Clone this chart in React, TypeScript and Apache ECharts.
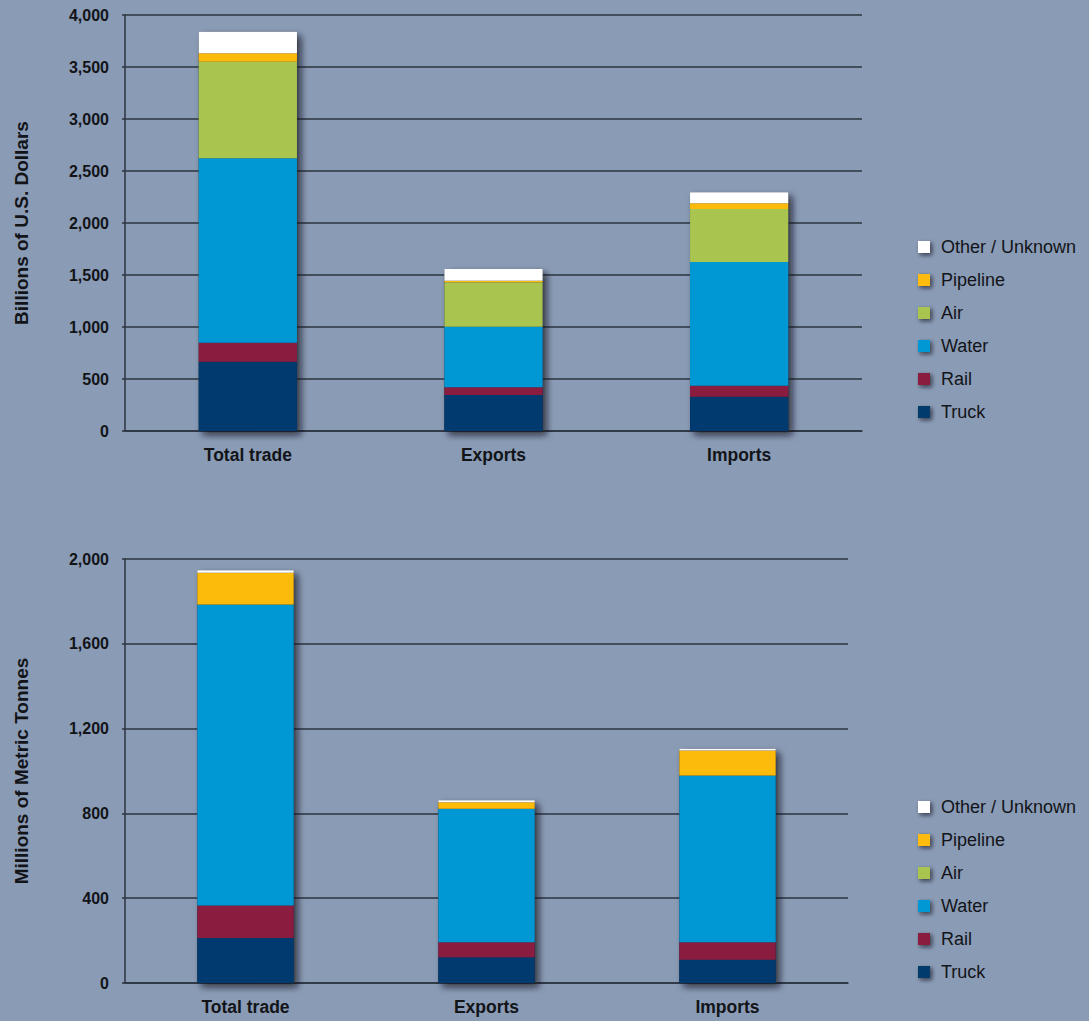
import React, { useEffect, useRef } from "react";
import * as echarts from "echarts";

const categories = ["Total trade", "Exports", "Imports"];
const modes = ["Truck", "Rail", "Water", "Air", "Pipeline", "Other / Unknown"];
const legendOrder = ["Other / Unknown", "Pipeline", "Air", "Water", "Rail", "Truck"];
const modeColors = ["#003a6e", "#8a1c40", "#0098d4", "#a9c54f", "#fcbb0a", "#ffffff"];

// Billions of U.S. Dollars
const valueTruck = [666, 346, 330];
const valueRail = [183, 74, 106];
const valueWater = [1773, 583, 1189];
const valueAir = [929, 427, 510];
const valuePipeline = [81, 15, 54];
const valueOther = [207, 113, 106];

// Millions of Metric Tonnes
const tonsTruck = [212, 121, 110];
const tonsRail = [154, 71, 82];
const tonsWater = [1418, 629, 786];
const tonsAir = [1, 0.5, 0.5];
const tonsPipeline = [150, 31, 118];
const tonsOther = [12, 9, 9];

const valueTicks = { min: 0, max: 4000, interval: 500 };
const tonsTicks = { min: 0, max: 2000, interval: 400 };

const BG = "#8a9bb5";
const DARK = "#2b3440";
const TEXT = "#121418";
const NARROW = "'Liberation Sans Narrow', 'Arial Narrow', 'Liberation Sans', Arial, sans-serif";
const SANS = "'Liberation Sans', Arial, sans-serif";

export default function App() {
  const ref = useRef<HTMLDivElement>(null);
  useEffect(() => {
    if (!ref.current) return;
    const chart = echarts.init(ref.current, null, { renderer: "svg" });
    const valueSets = [valueTruck, valueRail, valueWater, valueAir, valuePipeline, valueOther];
    const tonsSets = [tonsTruck, tonsRail, tonsWater, tonsAir, tonsPipeline, tonsOther];
    const sum = (sets: number[][]) => categories.map((_, i) => sets.reduce((a, s) => a + s[i], 0));

    const makeSeries = (sets: number[][], idx: number) => {
      const out: any[] = [
        {
          name: "_shadow" + idx,
          type: "bar",
          xAxisIndex: idx,
          yAxisIndex: idx,
          data: sum(sets),
          barWidth: "40%",
          barGap: "-100%",
          z: 1,
          silent: true,
          itemStyle: {
            color: "#1d2a3c",
            shadowColor: "rgba(10,15,30,0.75)",
            shadowBlur: 7,
            shadowOffsetX: 4,
            shadowOffsetY: 4,
          },
        },
      ];
      modes.forEach((m, k) => {
        out.push({
          name: m,
          type: "bar",
          stack: "s" + idx,
          xAxisIndex: idx,
          yAxisIndex: idx,
          data: sets[k],
          barWidth: "40%",
          barGap: "-100%",
          z: 2,
          itemStyle: { color: modeColors[k] },
        });
      });
      return out;
    };

    const xAxisCommon = {
      type: "category",
      data: categories,
      axisLine: { show: true, lineStyle: { color: DARK, width: 1.5 } },
      axisTick: { show: false },
      axisLabel: { color: TEXT, fontFamily: NARROW, fontWeight: "bold", fontSize: 17.5, margin: 15 },
    };
    const yAxisCommon = (name: string, ticks: any) => ({
      type: "value",
      ...ticks,
      name,
      nameLocation: "middle",
      nameGap: 94,
      nameTextStyle: { color: TEXT, fontFamily: NARROW, fontWeight: "bold", fontSize: 19 },
      axisLine: { show: true, lineStyle: { color: DARK, width: 1.5 } },
      axisTick: { show: true, length: 3, lineStyle: { color: DARK, width: 1.5 } },
      splitLine: { show: true, lineStyle: { color: DARK, width: 1.5 } },
      axisLabel: {
        color: TEXT,
        fontFamily: SANS,
        fontWeight: "bold",
        fontSize: 16,
        margin: 16,
        formatter: (v: number) => v.toLocaleString("en-US"),
      },
    });
    const legendCommon = {
      orient: "vertical",
      left: 913,
      data: legendOrder,
      icon: "rect",
      itemWidth: 12,
      itemHeight: 12,
      itemGap: 15,
      selectedMode: false,
      textStyle: { color: TEXT, fontFamily: SANS, fontSize: 18, padding: [0, 0, 0, 6] },
      itemStyle: { shadowColor: "rgba(10,15,30,0.7)", shadowBlur: 4, shadowOffsetX: 2, shadowOffsetY: 2 },
    };

    chart.setOption({
      animation: false,
      backgroundColor: BG,
      grid: [
        { left: 125, top: 15, width: 737, height: 416 },
        { left: 125, top: 559, width: 723, height: 424 },
      ],
      xAxis: [
        { ...xAxisCommon, gridIndex: 0 },
        { ...xAxisCommon, gridIndex: 1 },
      ],
      yAxis: [
        { ...yAxisCommon("Billions of U.S. Dollars", valueTicks), gridIndex: 0 },
        { ...yAxisCommon("Millions of Metric Tonnes", tonsTicks), gridIndex: 1 },
      ],
      legend: [
        { ...legendCommon, top: 233 },
        { ...legendCommon, top: 793 },
      ],
      series: [...makeSeries(valueSets, 0), ...makeSeries(tonsSets, 1)],
    });
    return () => chart.dispose();
  }, []);

  return (
    <div
      ref={ref}
      style={{ position: "fixed", left: 0, top: 0, width: 1089, height: 1021, background: BG }}
    />
  );
}
